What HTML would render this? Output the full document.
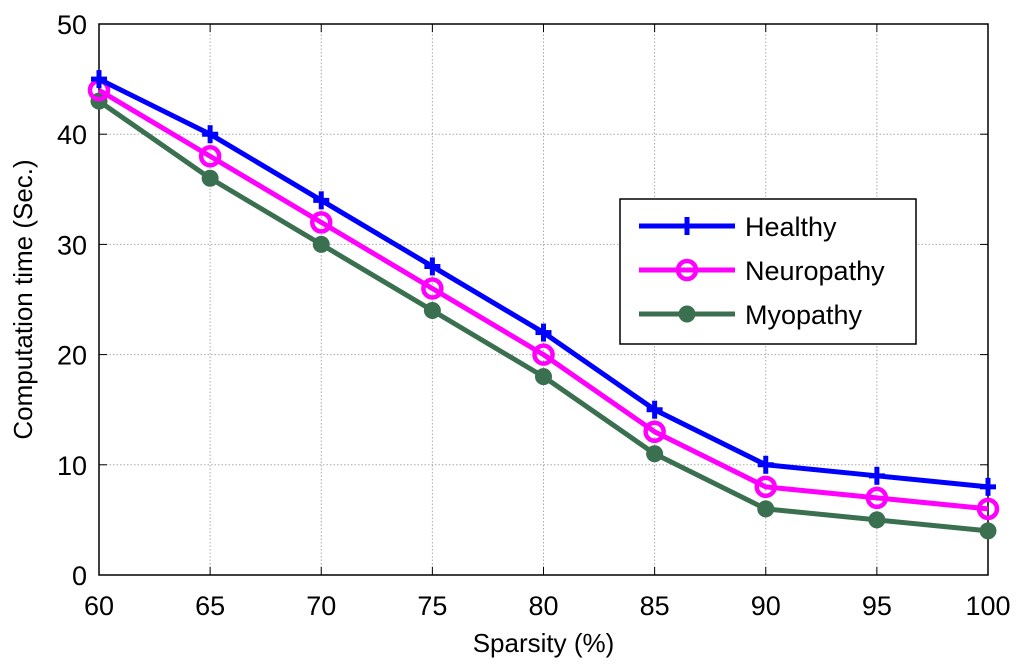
<!DOCTYPE html>
<html><head><meta charset="utf-8"><style>body{margin:0;background:#fff}svg{display:block;font-family:"Liberation Sans",sans-serif}</style></head>
<body>
<svg id="c" width="1024" height="671"></svg>
<script>
const categories=[60,65,70,75,80,85,90,95,100];
const healthy=[45,40,34,28,22,15,10,9,8];
const neuropathy=[44,38,32,26,20,13,8,7,6];
const myopathy=[43,36,30,24,18,11,6,5,4];
const xTicks=[60,65,70,75,80,85,90,95,100];
const yTicks=[0,10,20,30,40,50];
const L=99,R=988,T=24,B=575;
const x=v=>L+(v-60)/40*(R-L), y=v=>B-v/50*(B-T);
const NS='http://www.w3.org/2000/svg', s=document.getElementById('c');
function mk(t,a,p){const e=document.createElementNS(NS,t);for(const k in a)e.setAttribute(k,a[k]);(p||s).appendChild(e);return e;}
const g=mk('g',{});


xTicks.forEach(v=>{mk('line',{x1:x(v),x2:x(v),y1:T,y2:B,stroke:'#aaa','stroke-dasharray':'1.5 2'},g);
 mk('line',{x1:x(v),x2:x(v),y1:B,y2:B-8,stroke:'#000'},g);mk('line',{x1:x(v),x2:x(v),y1:T,y2:T+8,stroke:'#000'},g);
 const t=mk('text',{x:x(v),y:B+40,'font-size':27,'text-anchor':'middle'});t.textContent=v;
 
 });
yTicks.forEach(v=>{mk('line',{x1:L,x2:R,y1:y(v),y2:y(v),stroke:'#aaa','stroke-dasharray':'1.5 2'},g);
 mk('line',{x1:L,x2:L+8,y1:y(v),y2:y(v),stroke:'#000'},g);mk('line',{x1:R,x2:R-8,y1:y(v),y2:y(v),stroke:'#000'},g);
 const t=mk('text',{x:L-12,y:y(v)+10,'font-size':27,'text-anchor':'end'});t.textContent=v;
 
 });
const f=mk('rect',{x:L,y:T,width:R-L,height:B-T,fill:'none',stroke:'#000','stroke-width':1.5});


const xt=mk('text',{x:(L+R)/2,y:652,'font-size':26,'text-anchor':'middle'});xt.textContent='Sparsity (%)';


const yt=mk('text',{x:0,y:0,'font-size':26,'text-anchor':'middle',transform:`translate(32,${(T+B)/2}) rotate(-90)`});yt.textContent='Computation time (Sec.)';


function marker(type,cx,cy,col,p){
 if(type==='plus'){mk('line',{x1:cx-8,x2:cx+8,y1:cy,y2:cy,stroke:col,'stroke-width':5},p);mk('line',{x1:cx,x2:cx,y1:cy-9,y2:cy+9,stroke:col,'stroke-width':5},p);}
 else if(type==='circle')mk('circle',{cx,cy,r:9,fill:'none',stroke:col,'stroke-width':4.5},p);
 else mk('circle',{cx,cy,r:8.5,fill:col},p);}
const series=[['healthy',healthy,'#0000ff','plus','Healthy'],['neuropathy',neuropathy,'#ff00ff','circle','Neuropathy'],['myopathy',myopathy,'#3a7050','dot','Myopathy']];
series.slice().reverse().forEach(([n,d,c,m])=>{const gg=mk('g',{});
 
 
 mk('polyline',{points:d.map((v,i)=>x(categories[i])+','+y(v)).join(' '),fill:'none',stroke:c,'stroke-width':5,'stroke-linejoin':'round'},gg);
 d.forEach((v,i)=>marker(m,x(categories[i]),y(v),c,gg));});
const lg=mk('g',{});


mk('rect',{x:620,y:199,width:296,height:145,fill:'#fff',stroke:'#000','stroke-width':1.5},lg);
series.forEach(([n,d,c,m,lab],i)=>{const cy=226+i*44;
 mk('line',{x1:639,x2:735,y1:cy,y2:cy,stroke:c,'stroke-width':5},lg);marker(m,687,cy,c,lg);
 const t=mk('text',{x:745,y:cy+10,'font-size':27},lg);t.textContent=lab;
 
 });
</script>
</body></html>
